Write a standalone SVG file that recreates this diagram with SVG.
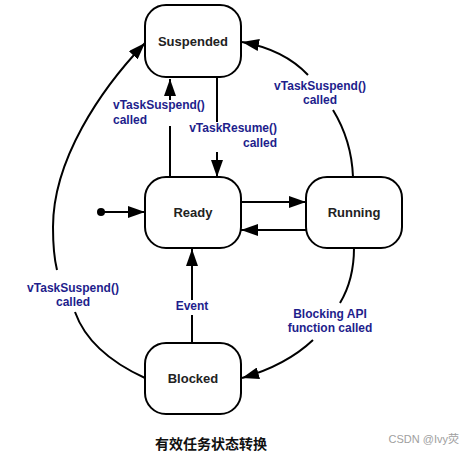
<svg xmlns="http://www.w3.org/2000/svg" width="475" height="455" viewBox="0 0 475 455">
<style>
.box{fill:#fff;stroke:#000;stroke-width:2}
.st{font-family:"Liberation Sans",Arial,sans-serif;font-weight:bold;font-size:13px;fill:#222;text-anchor:middle}
.lb{font-family:"Liberation Sans",Arial,sans-serif;font-weight:bold;font-size:12px;fill:#1e1e8c}
.ln{fill:none;stroke:#000;stroke-width:2}
</style>
<defs>
<marker id="ah" markerUnits="userSpaceOnUse" markerWidth="18" markerHeight="12" refX="17" refY="6" orient="auto">
<path d="M0,0 L17,6 L0,12 z" fill="#000"/>
</marker>
</defs>
<rect width="475" height="455" fill="#fff"/>
<g id="connectors">
<circle cx="101" cy="212" r="4" fill="#000"/>
<path class="ln" d="M101,212 L145,212" marker-end="url(#ah)"/>
<path class="ln" d="M241,202 L306,202" marker-end="url(#ah)"/>
<path class="ln" d="M306,230 L241,230" marker-end="url(#ah)"/>
<path class="ln" d="M170,177 L170,126"/>
<path class="ln" d="M170,100 L170,79" marker-end="url(#ah)"/>
<path class="ln" d="M217,77 L217,122"/>
<path class="ln" d="M217,152 L217,177" marker-end="url(#ah)"/>
<path class="ln" d="M192,343 L192,315"/>
<path class="ln" d="M192,300 L192,249" marker-end="url(#ah)"/>
<path class="ln" d="M353,177 C352,150 344,128 333,110"/>
<path class="ln" d="M308,75 C292,58 270,47 242,42" marker-end="url(#ah)"/>
<path class="ln" d="M354,248 C354,270 349,288 340,303"/>
<path class="ln" d="M313,340 C295,357 270,370 242,378" marker-end="url(#ah)"/>
<path class="ln" d="M145,378 C110,362 85,340 75,312"/>
<path class="ln" d="M57,270 C54,258 53,243 53,227 C53,160 100,90 145,43" marker-end="url(#ah)"/>
</g>
<g id="suspended"><rect class="box" x="145" y="5" width="96" height="72" rx="21"/><text class="st" x="193" y="46">Suspended</text></g>
<g id="ready"><rect class="box" x="145" y="177" width="96" height="71" rx="21"/><text class="st" x="193" y="217">Ready</text></g>
<g id="running"><rect class="box" x="306" y="177" width="96" height="71" rx="21"/><text class="st" x="354" y="217">Running</text></g>
<g id="blocked"><rect class="box" x="145" y="343" width="96" height="71" rx="21"/><text class="st" x="193" y="383">Blocked</text></g>
<g id="labels">
<text class="lb" x="113" y="109">vTaskSuspend()</text>
<text class="lb" x="113" y="124">called</text>
<text class="lb" x="277" y="132" text-anchor="end">vTaskResume()</text>
<text class="lb" x="277" y="147" text-anchor="end">called</text>
<text class="lb" x="320" y="90" text-anchor="middle">vTaskSuspend()</text>
<text class="lb" x="320" y="104" text-anchor="middle">called</text>
<text class="lb" x="73" y="292" text-anchor="middle">vTaskSuspend()</text>
<text class="lb" x="73" y="306" text-anchor="middle">called</text>
<text class="lb" x="192" y="310" text-anchor="middle">Event</text>
<text class="lb" x="330" y="318" text-anchor="middle">Blocking API</text>
<text class="lb" x="330" y="332" text-anchor="middle">function called</text>
</g>
<text x="211" y="449" font-family="'Noto Sans CJK SC',sans-serif" font-size="14" font-weight="bold" fill="#111" text-anchor="middle">有效任务状态转换</text>
<text x="459" y="443" font-family="'Liberation Sans','Noto Sans CJK SC',sans-serif" font-size="11" fill="#a0a0a0" text-anchor="end">CSDN @Ivy荧</text>
</svg>
